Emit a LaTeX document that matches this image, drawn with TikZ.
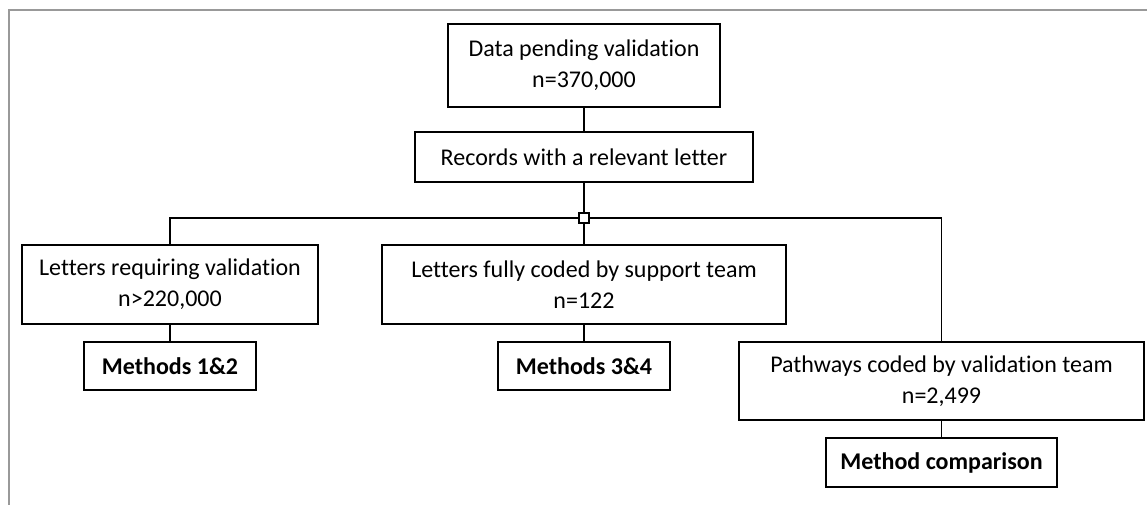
\documentclass[tikz,border=0pt]{standalone}
\usepackage{fontspec}
\setmainfont[Ligatures={NoCommon}]{Carlito}
\begin{document}
\begin{tikzpicture}[x=1pt,y=-1pt,
  box/.style={draw=black,line width=1.6pt,fill=white,align=center,inner sep=0pt,
    font=\fontsize{24}{31}\selectfont},
  mbox/.style={box,font=\fontsize{24}{31}\selectfont\bfseries},
  conn/.style={draw=black,line width=1.6pt},
  frame/.style={draw=black!40,line width=2pt}]
\useasboundingbox (0,0) rectangle (1147,505);
\draw[frame] (9,505) -- (9,10) -- (1147,10);
\node[box,minimum width=272pt,minimum height=83pt] (top) at (584,65.5) {Data pending validation\\n=370,000};
\node[box,minimum width=338pt,minimum height=50pt] (rec) at (584,157) {Records with a relevant letter};
\node[draw=black,line width=1.3pt,fill=white,minimum size=10pt,inner sep=0pt] (jn) at (584,218) {};
\node[box,minimum width=296pt,minimum height=79pt] (lft) at (170,284.5) {Letters requiring validation\\n>220,000};
\node[box,minimum width=404pt,minimum height=79pt] (mid) at (584,284.5) {Letters fully coded by support team\\n=122};
\node[box,minimum width=405pt,minimum height=78pt] (rgt) at (941.5,381) {Pathways coded by validation team\\n=2,499};
\node[mbox,minimum width=172pt,minimum height=48pt] (m12) at (170,366) {Methods 1\&2};
\node[mbox,minimum width=172pt,minimum height=48pt] (m34) at (584,366) {Methods 3\&4};
\node[mbox,minimum width=231pt,minimum height=49pt] (mc) at (941.5,462.5) {Method comparison};
\draw[conn] (top.south) -- (rec.north);
\draw[conn] (rec.south) -- (jn.north);
\draw[conn] (jn.west) -| (lft.north);
\draw[conn] (jn.east) -| (rgt.north);
\draw[conn] (jn.south) -- (mid.north);
\draw[conn] (lft.south) -- (m12.north);
\draw[conn] (mid.south) -- (m34.north);
\draw[conn] (rgt.south) -- (mc.north);
\end{tikzpicture}
\end{document}
